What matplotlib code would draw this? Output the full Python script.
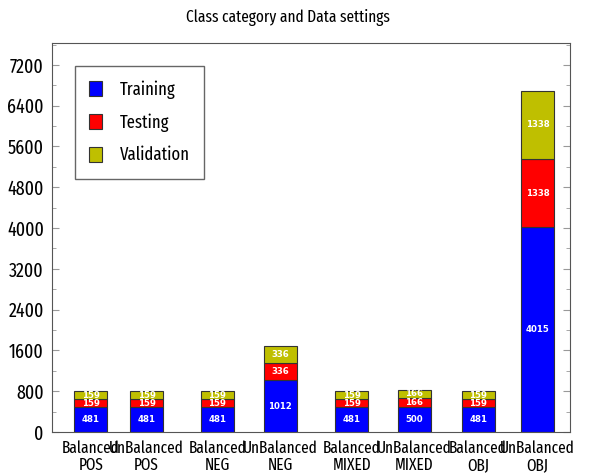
import matplotlib
matplotlib.use("Agg")
import matplotlib.pyplot as plt
from matplotlib.ticker import MultipleLocator

names = ["Balanced\nPOS", "UnBalanced\nPOS", "Balanced\nNEG", "UnBalanced\nNEG",
         "Balanced\nMIXED", "UnBalanced\nMIXED", "Balanced\nOBJ", "UnBalanced\nOBJ"]
training = [481, 481, 481, 1012, 481, 500, 481, 4015]
testing = [159, 159, 159, 336, 159, 166, 159, 1338]
validation = [159, 159, 159, 336, 159, 166, 159, 1338]
pos = [0.6, 1.46, 2.55, 3.52, 4.63, 5.59, 6.58, 7.5]

plt.rcParams["font.family"] = ["Fira Sans Extra Condensed", "DejaVu Sans"]

fig = plt.figure(figsize=(5.92, 4.75), dpi=100)
ax = fig.add_axes([0.088, 0.0905, 0.875, 0.819])

w = 0.51
b1 = ax.bar(pos, training, w, color="#0000ff", edgecolor="#333333", linewidth=0.8, label="Training")
b2 = ax.bar(pos, testing, w, bottom=training, color="#ff0000", edgecolor="#333333", linewidth=0.8, label="Testing")
bot = [a + b for a, b in zip(training, testing)]
b3 = ax.bar(pos, validation, w, bottom=bot, color="#bfbf00", edgecolor="#333333", linewidth=0.8, label="Validation")

for bars in (b1, b2, b3):
    ax.bar_label(bars, label_type="center", color="white", fontweight="bold",
                 fontsize=6.8, family=["DejaVu Sans"], fontstretch="condensed")

ax.set_xlim(0, 8)
ax.set_ylim(0, 7630)
ax.yaxis.set_major_locator(MultipleLocator(800))
ax.yaxis.set_minor_locator(MultipleLocator(400))
ax.tick_params(axis="y", which="both", direction="in", right=True, labelsize=14, color="#999999")
ax.tick_params(axis="y", which="major", length=5, pad=6)
ax.tick_params(axis="y", which="minor", length=3)
ax.set_xticks(pos)
ax.set_xticklabels(names, fontsize=12, linespacing=1.05)
ax.tick_params(axis="x", length=0, pad=6)
for s in ax.spines.values():
    s.set_color("#555555")

ax.legend(loc="upper left", bbox_to_anchor=(0.044, 0.941), borderaxespad=0, fontsize=13,
          handlelength=0.7, handleheight=0.9, handletextpad=1.0, labelspacing=0.8,
          borderpad=0.8, fancybox=False, edgecolor="#666666", framealpha=1)

fig.suptitle("Class category and Data settings", x=0.487, y=0.98, fontsize=12)

fig.savefig("out.png", dpi=100)
